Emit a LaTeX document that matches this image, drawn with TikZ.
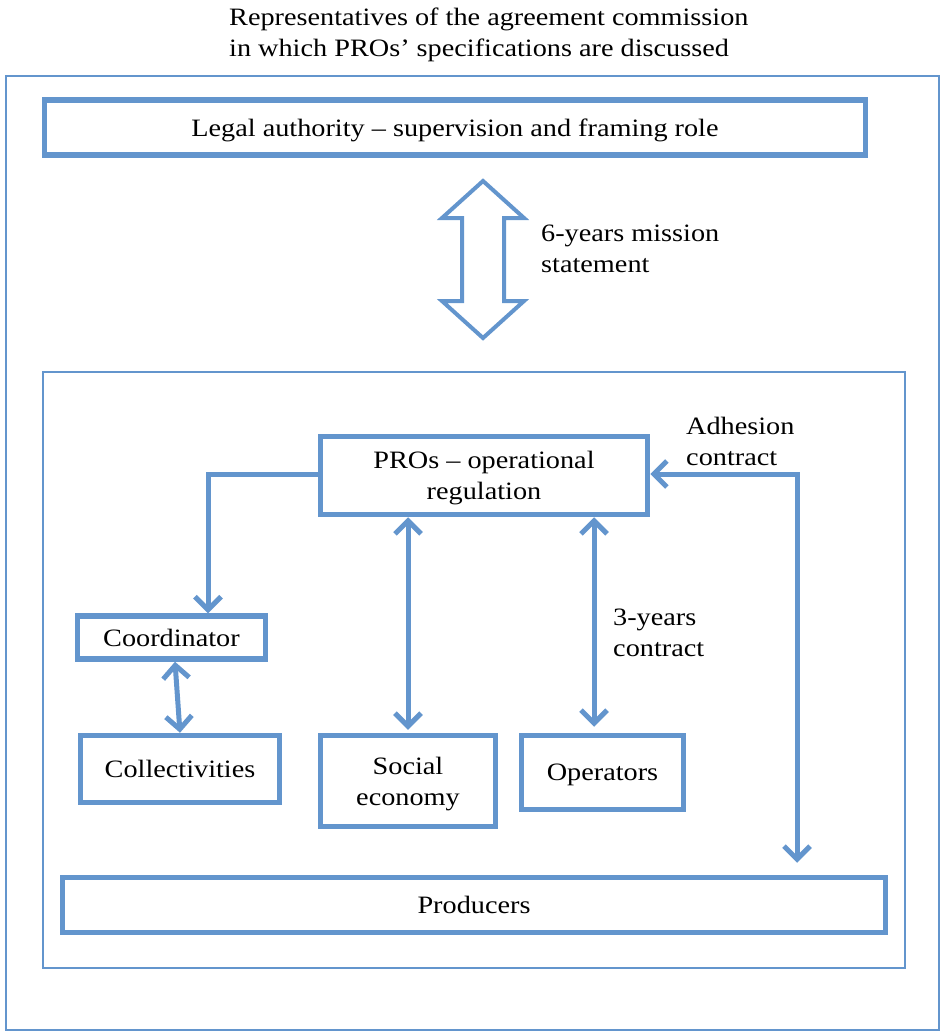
\documentclass[tikz,border=0pt]{standalone}
\usepackage{fontspec}
\setmainfont{Liberation Serif}[FakeStretch=1.13]
\usetikzlibrary{arrows.meta,calc}
\definecolor{bl}{RGB}{99,149,205}
\tikzset{
  frame/.style={draw=bl,line width=1.8pt},
  box/.style={draw=bl,line width=5.5pt,fill=white,inner sep=0pt,align=center,text depth=0pt,font=\fontsize{25}{31}\selectfont},
  lbl/.style={inner sep=0pt,align=left,font=\fontsize{25}{31}\selectfont},
  tip/.style={},
  arr/.style={draw=bl,line width=5pt,-{Straight Barb[length=13pt,width=26pt]}},
  darr/.style={draw=bl,line width=5pt,{Straight Barb[length=13pt,width=26pt]}-{Straight Barb[length=13pt,width=26pt]}}
}
\begin{document}
\begin{tikzpicture}[x=1pt,y=-1pt]
\useasboundingbox (0,0) rectangle (945,1035);
% title
\node[lbl,anchor=west] (title) at (229,35) {Representatives of the agreement commission\\in which PROs' specifications are discussed};
% outer and inner frames
\draw[frame] (6,76) rectangle (939,1030);
\draw[frame] (43,372) rectangle (905,968);
% legal authority
\node[box,minimum width=821pt,minimum height=55pt] (legal) at (455,127.5) {Legal authority -- supervision and framing role};
% hollow double arrow
\draw[draw=bl,line width=4pt,line join=miter]
  (483,181) -- (524,218) -- (504,218) -- (504,301) -- (524,301) -- (483,338)
  -- (442,301) -- (462,301) -- (462,218) -- (442,218) -- cycle;
\node[lbl,anchor=west] (mission) at (541,249) {6-years mission\\statement};
% boxes
\node[box,minimum width=327pt,minimum height=78pt] (pros) at (484,475.5) {PROs -- operational\\regulation};
\node[box,minimum width=188pt,minimum height=43pt] (coord) at (171.5,637.5) {Coordinator};
\node[box,minimum width=199pt,minimum height=67pt] (coll) at (180,769) {Collectivities};
\node[box,minimum width=175pt,minimum height=91pt] (soc) at (408,781) {Social\\economy};
\node[box,minimum width=162pt,minimum height=74pt] (oper) at (602.5,772.5) {Operators};
\node[box,minimum width=823pt,minimum height=55pt] (prod) at (474,905) {Producers};
% labels
\node[lbl,anchor=west] (adhl) at (686,441) {Adhesion\\contract};
\node[lbl,anchor=west] (threel) at (613,633) {3-years\\contract};
% connectors
\coordinate (cx) at (208,0);
\coordinate (ox) at (594,0);
\coordinate (adh) at (797,474);
\draw[arr,line join=miter] (pros.west |- adh) -| (coord.north -| cx);
\draw[darr] ([xshift=3.5pt]coord.south) -- (coll.north);
\draw[darr,shorten >=3pt] (pros.south -| soc.north) -- (soc.north);
\draw[darr,shorten >=6pt] (pros.south -| ox) -- (oper.north -| ox);
\draw[darr,line join=miter,shorten >=12pt] (pros.east |- adh) -- (adh) -- (adh |- prod.north);
\end{tikzpicture}
\end{document}
